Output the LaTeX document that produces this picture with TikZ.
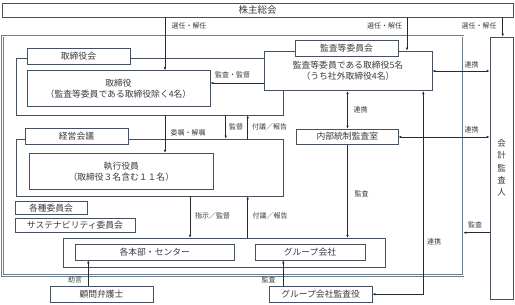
\documentclass[tikz,border=0pt]{standalone}
\usepackage{fontspec}
\setmainfont{Noto Sans CJK JP}
\usetikzlibrary{arrows.meta,calc}
\definecolor{boxc}{HTML}{45525E}
\definecolor{framec}{HTML}{6E7D8A}
\definecolor{linec}{HTML}{2A2A2A}
\definecolor{textc}{HTML}{3A3A3A}
\begin{document}
\begin{tikzpicture}[x=1pt,y=-1pt,
  box/.style={draw=boxc, fill=white, line width=0.8pt, inner sep=0pt, text=textc,
    align=center, font=\fontsize{8.8}{11}\selectfont},
  frame/.style={draw=boxc, line width=0.8pt, inner sep=0pt},
  bigframe/.style={draw=framec, double=white, double distance=0.9pt, line width=0.8pt, inner sep=0pt},
  lab/.style={inner sep=0pt, text=textc, font=\fontsize{7}{8}\selectfont},
  arr/.style={draw=linec, line width=0.6pt, -{Latex[length=3pt,width=2.6pt]}},
  darr/.style={draw=linec, line width=0.6pt, {Latex[length=3pt,width=2.6pt]}-{Latex[length=3pt,width=2.6pt]}}]
\useasboundingbox (0,0) rectangle (515,305);

% frames
\node[bigframe, minimum width=460.5pt, minimum height=239.5pt] (bigf) at (232.75,155.75) {};
\node[frame, minimum width=267pt, minimum height=57pt] (boardf) at (149.5,86.5) {};
\node[frame, minimum width=267pt, minimum height=57pt] (keieif) at (149.5,167.5) {};
\node[frame, fill=white, minimum width=321.7pt, minimum height=28.7pt] (bottomf) at (224.15,252.65) {};

% top and right
\node[box, minimum width=511pt, minimum height=14pt, font=\fontsize{9.5}{11}\selectfont] (kabu) at (257.5,10) {株主総会};
\node[box, minimum width=23pt, minimum height=262pt, font=\fontsize{8.5}{12.3}\selectfont] (kaikei) at (501.5,168) {会\\計\\監\\査\\人};

% board
\node[box, minimum width=183pt, minimum height=35.3pt] (tori) at (118.5,88.3) {取締役\\（監査等委員である取締役除く4名）};
\node[box, minimum width=103pt, minimum height=16pt] (boardl) at (78.5,56) {取締役会};

% audit committee
\node[box, minimum width=168pt, minimum height=39.7pt] (audit) at (348,70.85) {監査等委員である取締役5名\\（うち社外取締役4名）};
\node[box, minimum width=103pt, minimum height=16pt] (auditl) at (346.5,48) {監査等委員会};
\node[box, minimum width=101.3pt, minimum height=15.3pt] (naibu) at (347.35,136.65) {内部統制監査室};

% management
\node[box, minimum width=184pt, minimum height=36pt] (shikkou) at (121.3,171.3) {執行役員\\（取締役３名含む１１名）};
\node[box, minimum width=103pt, minimum height=16pt] (keieil) at (76.5,136.3) {経営会議};
\node[box, minimum width=72pt, minimum height=12.3pt] (kakushu) at (51,207.85) {各種委員会};
\node[box, minimum width=120pt, minimum height=14.4pt] (sustain) at (75,225.5) {サステナビリティ委員会};

% bottom
\node[box, minimum width=159.5pt, minimum height=16pt] (honbu) at (154.75,252) {各本部・センター};
\node[box, minimum width=110pt, minimum height=16pt] (group) at (310,252) {グループ会社};
\node[box, minimum width=103pt, minimum height=15.5pt] (komon) at (101.5,294.25) {顧問弁護士};
\node[box, minimum width=102.7pt, minimum height=15.5pt] (gkansa) at (320.65,294.25) {グループ会社監査役};

% helper coordinates
\coordinate (xA) at (165,0);
\coordinate (xB) at (407,0);
\coordinate (xC) at (502.7,0);
\coordinate (yD) at (0,83);
\coordinate (yE) at (0,71);
\coordinate (xF) at (347.5,0);
\coordinate (yG) at (0,137);
\coordinate (xH) at (225.7,0);
\coordinate (xI) at (247.7,0);
\coordinate (xJ) at (190,0);
\coordinate (yK) at (0,232.7);
\coordinate (xL) at (88.3,0);
\coordinate (xM) at (283.3,0);
\coordinate (xN) at (423.3,0);

% connectors
\draw[arr] (kabu.south -| xA) -- (tori.north -| xA);
\draw[arr] (kabu.south -| xB) -- (audit.north -| xB);
\draw[arr] (kabu.south -| xC) -- (kaikei.north -| xC);
\draw[arr] (audit.west |- yD) -- (tori.east |- yD);
\draw[darr] (audit.east |- yE) -- (kaikei.west |- yE);
\draw[darr] (audit.south -| xF) -- (naibu.north -| xF);
\draw[darr] (naibu.east |- yG) -- (kaikei.west |- yG);
\draw[arr] (boardf.south -| xA) -- (shikkou.north -| xA);
\draw[arr] (boardf.south -| xH) -- (keieif.north -| xH);
\draw[arr] (keieif.north -| xI) -- (boardf.south -| xI);
\draw[arr] (keieif.south -| xJ) -- (bottomf.north -| xJ);
\draw[arr] (bottomf.north -| xI) -- (keieif.south -| xI);
\draw[arr] (naibu.south -| xF) -- (bottomf.north -| xF);
\draw[arr] (kaikei.west |- yK) -- (bigf.east |- yK);
\draw[arr] (komon.north -| xL) -- (honbu.south -| xL);
\draw[arr] (gkansa.north -| xM) -- (group.south -| xM);
\draw[darr] (audit.south -| xN) |- (gkansa.east);

% labels
\node[lab] (l1) at (189,26) {選任・解任};
\node[lab] (l2) at (384.5,26) {選任・解任};
\node[lab] (l3) at (479,26) {選任・解任};
\node[lab] (l4) at (232.5,75) {監査・監督};
\node[lab] (l5) at (471.5,64.5) {連携};
\node[lab] (l6) at (360.5,110) {連携};
\node[lab] (l7) at (471.5,130) {連携};
\node[lab] (l8) at (188,133) {委嘱・解嘱};
\node[lab] (l9) at (236,126.7) {監督};
\node[lab] (l10) at (269.5,126.7) {付議／報告};
\node[lab] (l11) at (212.5,215.7) {指示／監督};
\node[lab] (l12) at (270,215.5) {付議／報告};
\node[lab] (l13) at (361.7,194) {監査};
\node[lab] (l14) at (475,225) {監査};
\node[lab] (l15) at (75,279.5) {助言};
\node[lab] (l16) at (268.5,279.5) {監査};
\node[lab] (l17) at (434,241.7) {連携};
\end{tikzpicture}
\end{document}
